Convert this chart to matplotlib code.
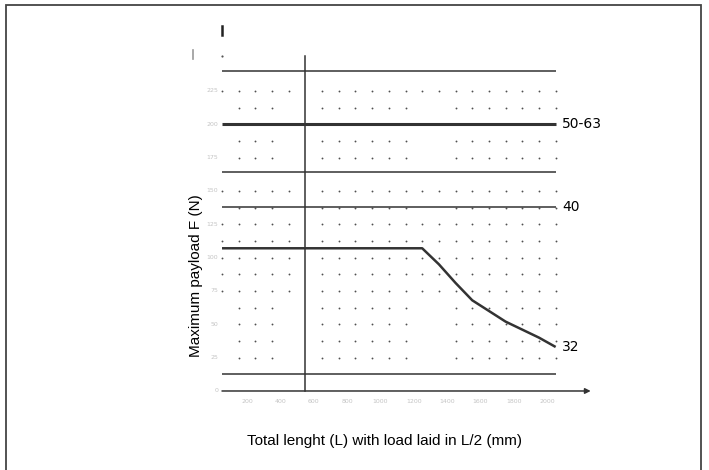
import matplotlib

matplotlib.use("Agg")
import matplotlib.pyplot as plt
from matplotlib.patches import Rectangle

# payload curve for bore 32 (mm, N)
length_mm = [0, 1200, 1300, 1400, 1500, 1600, 1700, 1800, 1900, 2000]
payload_32 = [107, 107, 95, 81, 68, 60, 52, 46, 40, 33]

# constant payload levels for the larger bores
bore_labels = ["50-63", "40"]
bore_payload = [200, 138]

# plain reference lines of the grid
ref_lines = [240, 164, 12.5]

# dotted background grid: columns every 100 mm, rows every 12.5 N
dot_cols = list(range(0, 21))
full_rows = [18, 12, 10, 9, 8, 7, 6]
part_rows = [17, 15, 14, 11, 5, 4, 3, 2]
part_skip = [0, 4, 12, 13]

y_ticks = [0, 25, 50, 75, 100, 125, 150, 175, 200, 225]
x_ticks = [0, 200, 400, 600, 800, 1000, 1200, 1400, 1600, 1800, 2000]

LINE = "#333333"
FAINT = "#c4c4c4"

fig = plt.figure(figsize=(7.09, 4.70), dpi=100)
ax = fig.add_axes([180 / 709, 45 / 470, 440 / 709, 410 / 470])
ax.set_xlim(-251.8, 2385.7)
ax.set_ylim(-25.5, 281.9)
ax.axis("off")

# outer frame of the picture
fig.patches.append(
    Rectangle((6 / 709, -0.01), 695 / 709, 1.0 - 5 / 470 + 0.01,
              transform=fig.transFigure, fill=False, edgecolor="#444444", linewidth=1.3)
)

dots_x, dots_y = [], []
for row in full_rows:
    for col in dot_cols:
        if col != 5:
            dots_x.append(col * 100)
            dots_y.append(row * 12.5)
for row in part_rows:
    for col in dot_cols:
        if col != 5 and col not in part_skip:
            dots_x.append(col * 100)
            dots_y.append(row * 12.5)
ax.scatter(dots_x, dots_y, s=1.8, color="#505050", linewidths=0, zorder=1)
ax.scatter([0], [251], s=2.5, color="#555555", linewidths=0)

for level in ref_lines:
    ax.plot([0, 2000], [level, level], color=LINE, linewidth=1.1, solid_capstyle="butt")

ax.plot([0, 2000], [bore_payload[0], bore_payload[0]], color=LINE, linewidth=2.2,
        solid_capstyle="butt")
ax.plot([0, 2000], [bore_payload[1], bore_payload[1]], color=LINE, linewidth=1.1,
        solid_capstyle="butt")
ax.plot(length_mm, payload_32, color=LINE, linewidth=1.8, solid_capstyle="butt")

for label, level in zip(bore_labels, bore_payload):
    ax.text(2040, level, label, fontsize=10, family="DejaVu Sans", va="center", ha="left")
ax.text(2040, payload_32[-1], "32", fontsize=10, family="DejaVu Sans", va="center", ha="left")

# axes: vertical line at 500 mm and horizontal axis with arrow
ax.plot([500, 500], [0, 251], color=LINE, linewidth=1.1)
ax.annotate("", xy=(2210, 0), xytext=(0, 0),
            arrowprops=dict(arrowstyle="-|>", color=LINE, linewidth=1.1,
                            mutation_scale=8, shrinkA=0, shrinkB=0))
ax.plot([0, 0], [267, 274], color="#222222", linewidth=1.8)
ax.plot([-175, -175], [249, 256], color="#999999", linewidth=1.2)

# faded tick labels
for value in y_ticks:
    ax.text(-22, value, str(value), fontsize=4.5, color=FAINT, ha="right", va="center")
for value in x_ticks[1:]:
    ax.text(value - 50, -6, str(value), fontsize=4.5, color=FAINT, ha="center", va="top")

fig.text(384 / 709, 1 - 441 / 470, "Total lenght (L) with load laid in L/2 (mm)",
         fontsize=11, family="Liberation Sans", ha="center", va="center")
fig.text(196 / 709, 1 - 276 / 470, "Maximum payload F (N)", rotation=90,
         fontsize=11, family="Liberation Sans", ha="center", va="center")

fig.savefig("out.png", dpi=100)
